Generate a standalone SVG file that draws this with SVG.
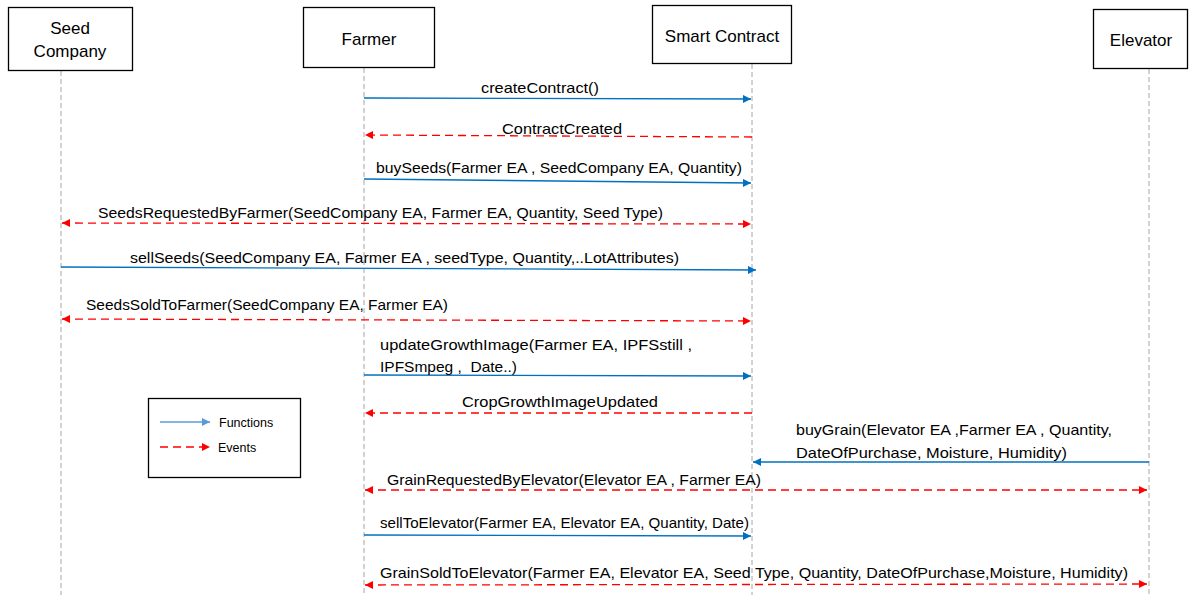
<svg xmlns="http://www.w3.org/2000/svg" width="1204" height="595" viewBox="0 0 1204 595">
<defs>
<marker id="ab" viewBox="0 0 10 10" refX="10" refY="5" markerWidth="9" markerHeight="8" markerUnits="userSpaceOnUse" orient="auto-start-reverse"><path d="M0,0 L10,5 L0,10 Z" fill="#0070c0"/></marker>
<marker id="al" viewBox="0 0 10 10" refX="10" refY="5" markerWidth="9" markerHeight="8" markerUnits="userSpaceOnUse" orient="auto-start-reverse"><path d="M0,0 L10,5 L0,10 Z" fill="#5b9bd5"/></marker>
<marker id="ar" viewBox="0 0 10 10" refX="10" refY="5" markerWidth="9" markerHeight="8" markerUnits="userSpaceOnUse" orient="auto-start-reverse"><path d="M0,0 L10,5 L0,10 Z" fill="#ff0000"/></marker>
</defs>
<style>
.box{fill:#fff;stroke:#000;stroke-width:1.3}
.life{stroke:#a6a6a6;stroke-width:1;stroke-dasharray:5,3;fill:none}
.hd{font-family:"Liberation Sans",Arial,sans-serif;font-size:17px;fill:#000;text-anchor:middle}
.lb{font-family:"Liberation Sans",Arial,sans-serif;font-size:15px;fill:#000}
.lg{font-family:"Liberation Sans",Arial,sans-serif;font-size:12.5px;fill:#000}
.fn{stroke:#0070c0;stroke-width:1.3;fill:none;marker-end:url(#ab)}
.ev{stroke:#ff0000;stroke-width:1.3;stroke-dasharray:8,5;fill:none;marker-end:url(#ar)}
.evb{stroke:#ff0000;stroke-width:1.3;stroke-dasharray:8,5;fill:none;marker-end:url(#ar);marker-start:url(#ar)}
</style>
<rect width="1204" height="595" fill="#fff"/>
<g id="lifelines">
<line class="life" x1="61" y1="71" x2="61" y2="595"/>
<line class="life" x1="364" y1="68" x2="364" y2="595"/>
<line class="life" x1="752" y1="64" x2="752" y2="595"/>
<line class="life" x1="1149" y1="69" x2="1149" y2="595"/>
</g>
<g id="seed-company"><rect class="box" x="8.5" y="7.5" width="124" height="63"/><text class="hd" x="70" y="34">Seed</text><text class="hd" x="70" y="57">Company</text></g>
<g id="farmer"><rect class="box" x="303.5" y="7.5" width="131" height="60"/><text class="hd" x="369" y="45">Farmer</text></g>
<g id="smart-contract"><rect class="box" x="652.5" y="5.5" width="139" height="58"/><text class="hd" x="722" y="42">Smart Contract</text></g>
<g id="elevator"><rect class="box" x="1093.5" y="9.5" width="94" height="59"/><text class="hd" x="1141" y="46">Elevator</text></g>
<g id="connectors">
<line class="fn" x1="364" y1="98" x2="751" y2="99"/>
<line class="ev" x1="752" y1="137" x2="365" y2="135"/>
<line class="fn" x1="364" y1="179" x2="751" y2="183"/>
<line class="evb" x1="62" y1="223" x2="751" y2="224"/>
<line class="fn" x1="61" y1="267" x2="756" y2="270"/>
<line class="evb" x1="62" y1="319" x2="751" y2="321"/>
<line class="fn" x1="364" y1="375" x2="751" y2="376"/>
<line class="ev" x1="752" y1="413" x2="365" y2="413"/>
<line class="fn" x1="1149" y1="462" x2="753" y2="462"/>
<line class="evb" x1="365" y1="490" x2="1147" y2="490"/>
<line class="fn" x1="364" y1="535" x2="751" y2="536"/>
<line class="evb" x1="365" y1="585" x2="1147" y2="584"/>
</g>
<g id="labels">
<text class="lb" x="481" y="93" textLength="118" lengthAdjust="spacingAndGlyphs">createContract()</text>
<text class="lb" x="502" y="134" textLength="120" lengthAdjust="spacingAndGlyphs">ContractCreated</text>
<text class="lb" x="376" y="173" textLength="366" lengthAdjust="spacingAndGlyphs">buySeeds(Farmer EA , SeedCompany EA, Quantity)</text>
<text class="lb" x="98" y="218" textLength="565" lengthAdjust="spacingAndGlyphs">SeedsRequestedByFarmer(SeedCompany EA, Farmer EA, Quantity, Seed Type)</text>
<text class="lb" x="130" y="263" textLength="549" lengthAdjust="spacingAndGlyphs">sellSeeds(SeedCompany EA, Farmer EA , seedType, Quantity,..LotAttributes)</text>
<text class="lb" x="86" y="310" textLength="362" lengthAdjust="spacingAndGlyphs">SeedsSoldToFarmer(SeedCompany EA, Farmer EA)</text>
<text class="lb" x="380" y="350" textLength="312" lengthAdjust="spacingAndGlyphs">updateGrowthImage(Farmer EA, IPFSstill ,</text>
<text class="lb" x="380" y="372" textLength="137" lengthAdjust="spacingAndGlyphs" xml:space="preserve">IPFSmpeg ,  Date..)</text>
<text class="lb" x="462" y="407" textLength="196" lengthAdjust="spacingAndGlyphs">CropGrowthImageUpdated</text>
<text class="lb" x="796" y="435" textLength="316" lengthAdjust="spacingAndGlyphs">buyGrain(Elevator EA ,Farmer EA , Quantity,</text>
<text class="lb" x="796" y="458" textLength="271" lengthAdjust="spacingAndGlyphs">DateOfPurchase, Moisture, Humidity)</text>
<text class="lb" x="387" y="485" textLength="374" lengthAdjust="spacingAndGlyphs">GrainRequestedByElevator(Elevator EA , Farmer EA)</text>
<text class="lb" x="380" y="528" textLength="369" lengthAdjust="spacingAndGlyphs">sellToElevator(Farmer EA, Elevator EA, Quantity, Date)</text>
<text class="lb" x="380" y="578" textLength="748" lengthAdjust="spacingAndGlyphs">GrainSoldToElevator(Farmer EA, Elevator EA, Seed Type, Quantity, DateOfPurchase,Moisture, Humidity)</text>
</g>
<g id="legend">
<rect class="box" x="148.5" y="398.5" width="152" height="79"/>
<line x1="160" y1="422" x2="210" y2="422" stroke="#5b9bd5" stroke-width="1.3" marker-end="url(#al)"/>
<line x1="160" y1="447" x2="210" y2="447" stroke="#ff0000" stroke-width="1.3" stroke-dasharray="8,5" marker-end="url(#ar)"/>
<text class="lg" x="219" y="427">Functions</text>
<text class="lg" x="218" y="452">Events</text>
</g>
</svg>
